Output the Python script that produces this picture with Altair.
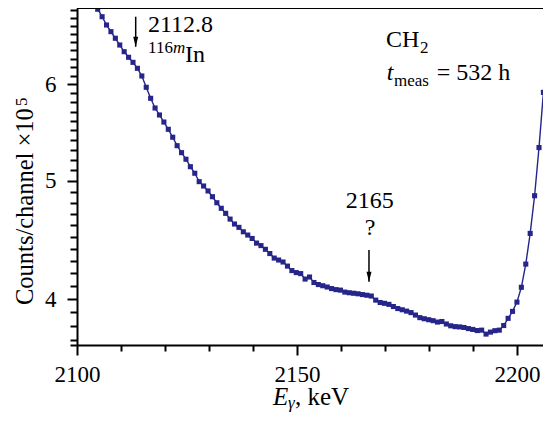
import altair as alt
import pandas as pd

# ---------------- data ----------------
# channel energies (keV): first channel and channel width
E_FIRST = 2103.7
E_STEP = 1.003
# counts per channel (x 10^5)
counts = [
    7.01,
    6.915, 6.818, 6.712, 6.628, 6.546, 6.463, 6.382, 6.315, 6.255, 6.185,
    6.096, 5.967, 5.844, 5.738, 5.663, 5.588, 5.512, 5.430, 5.344, 5.274,
    5.209, 5.136, 5.073, 4.993, 4.952, 4.906, 4.853, 4.798, 4.748, 4.703,
    4.652, 4.609, 4.580, 4.542, 4.514, 4.485, 4.446, 4.425, 4.394, 4.359,
    4.322, 4.306, 4.290, 4.257, 4.221, 4.205, 4.197, 4.154, 4.170, 4.127,
    4.111, 4.102, 4.092, 4.080, 4.072, 4.068, 4.053, 4.048, 4.044, 4.040,
    4.034, 4.029, 4.023, 3.992, 3.974, 3.968, 3.960, 3.944, 3.929, 3.920,
    3.910, 3.899, 3.881, 3.862, 3.854, 3.847, 3.840, 3.830, 3.834, 3.816,
    3.803, 3.797, 3.795, 3.791, 3.783, 3.777, 3.769, 3.772, 3.744, 3.758,
    3.768, 3.772, 3.805, 3.857, 3.908, 3.977, 4.090, 4.273, 4.528, 4.862,
    5.325, 5.910, 6.735, 7.75,
]
energy = [round(E_FIRST + E_STEP * i, 3) for i in range(len(counts))]

x_domain = [2100, 2205.91]
y_domain = [3.6676, 6.931]
x_tick_values = list(range(2100, 2206, 5))
y_tick_values = [y_domain[0]] + [round(3.7 + 0.1 * i, 1) for i in range(33)]

# annotations (energy, value)
arrow_x = [2113.34, 2166.36]
arrow_top = [6.818, 4.388]
arrow_tip = [6.442, 4.133]

W, H = 466, 337
FONT = "Liberation Serif"
BLUE = "#25258a"

df = pd.DataFrame({"E": energy, "c": counts})

xs = alt.Scale(domain=x_domain, nice=False, zero=False)
ys = alt.Scale(type="log", domain=y_domain, nice=False)

x_axis = alt.Axis(
    values=x_tick_values, format="d",
    labelExpr="datum.value % 50 === 0 ? datum.label : ''",
    tickSize={"condition": {"test": "datum.value % 50 === 0", "value": 10}, "value": 6},
    title=None, grid=False, domainColor="black", domainWidth=2,
    tickColor="black", tickWidth=2, labelFont=FONT, labelFontSize=23,
    labelColor="black", labelPadding=8, labelFlush=False, labelOverlap=False,
)
y_axis = alt.Axis(
    values=y_tick_values,
    labelExpr="abs(datum.value - round(datum.value)) < 0.001 ? format(datum.value, 'd') : ''",
    tickSize={"condition": {"test": "abs(datum.value - round(datum.value)) < 0.001", "value": 10}, "value": 7},
    title=None, grid=False, domainColor="black", domainWidth=2,
    tickColor="black", tickWidth=2, labelFont=FONT, labelFontSize=23,
    labelColor="black", labelPadding=11, labelFlush=False, labelOverlap=False,
)

base = alt.Chart(df)
line = base.mark_line(color=BLUE, strokeWidth=1.4, clip=True).encode(
    x=alt.X("E:Q", scale=xs, axis=x_axis),
    y=alt.Y("c:Q", scale=ys, axis=y_axis),
)
pts = base.mark_square(color=BLUE, size=26, opacity=1, clip=True).encode(
    x=alt.X("E:Q", scale=xs), y=alt.Y("c:Q", scale=ys)
)

top_border = alt.Chart(pd.DataFrame({"a": [0]})).mark_rule(
    color="black", strokeWidth=2
).encode(x=alt.value(0), x2=alt.value(W), y=alt.value(0))


def label(text, e, v, size=24, style="normal", align="left", baseline="alphabetic"):
    d = pd.DataFrame({"E": [e], "c": [v], "t": [text]})
    return alt.Chart(d).mark_text(
        font=FONT, fontSize=size, fontStyle=style, align=align,
        baseline=baseline, color="black",
    ).encode(x=alt.X("E:Q", scale=xs), y=alt.Y("c:Q", scale=ys), text="t:N")


def plabel(text, px, py, size=26, style="normal", angle=0):
    d = pd.DataFrame({"t": [text]})
    return alt.Chart(d).mark_text(
        font=FONT, fontSize=size, fontStyle=style, align="left",
        baseline="alphabetic", color="black", angle=angle,
    ).encode(x=alt.value(px), y=alt.value(py), text="t:N")


texts = [
    label("2112.8", 2116.14, 6.62),
    label("116", 2116.14, 6.363, size=17),
    label("m", 2121.82, 6.363, size=17, style="italic"),
    label("In", 2124.55, 6.259),
    label("2165", 2166.52, 4.750, align="center"),
    label("?", 2166.6, 4.514, align="center"),
    label("CH", 2170.23, 6.439),
    label("2", 2177.95, 6.366, size=17),
    label("t", 2170.39, 6.049, style="italic"),
    label("meas", 2172.05, 5.981, size=17),
    label("= 532 h", 2181.75, 6.049),
    plabel("E", 196, 397, size=25, style="italic"),
    plabel("γ", 211, 400, size=17, style="italic"),
    plabel(", keV", 218, 397, size=25),
    plabel("Counts/channel ×10", -44, 297, size=24.5, angle=270),
    plabel("5", -50, 98, size=17, angle=270),
]

adf = pd.DataFrame({"E": arrow_x, "c": arrow_top, "c2": arrow_tip})
arrow_shaft = alt.Chart(adf).mark_rule(color="black", strokeWidth=1.5).encode(
    x=alt.X("E:Q", scale=xs), y=alt.Y("c:Q", scale=ys), y2="c2:Q"
)
arrow_head = alt.Chart(adf).mark_point(
    shape="M-0.5,-2L0,0L0.5,-2Z", size=100, filled=True, color="black", opacity=1
).encode(x=alt.X("E:Q", scale=xs), y=alt.Y("c2:Q", scale=ys))

chart = alt.layer(line, pts, top_border, arrow_shaft, arrow_head, *texts).properties(
    width=W, height=H,
    autosize=alt.AutoSizeParams(type="none"),
    padding={"left": 69, "top": 0, "right": 0, "bottom": 67},
).configure_view(stroke="transparent")

chart.save("out.html", embed_options={"renderer": "svg", "actions": False})
